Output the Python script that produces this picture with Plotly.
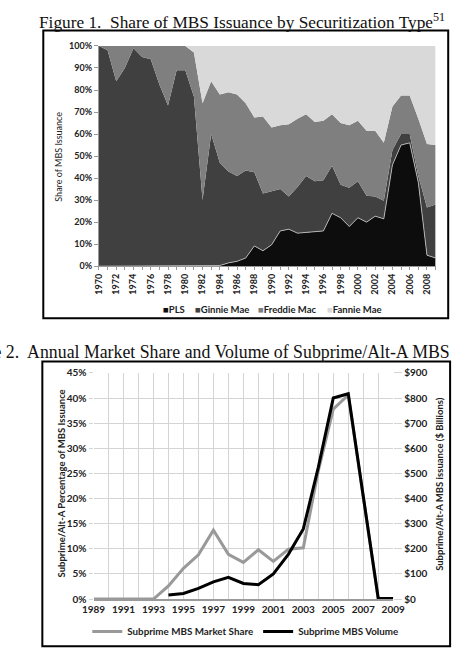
import plotly.graph_objects as go

W, H = 464, 660

# ---------------- Figure 1 data (share of MBS issuance, %) ----------------
years1 = list(range(1970, 2010))
pls = [0, 0, 0, 0, 0, 0, 0, 0, 0, 0, 0, 0, 0, 0, 0.3, 1.5, 2.2, 3.7, 9.2, 7.0,
       9.7, 16.0, 16.8, 15.0, 15.3, 15.6, 16.0, 24.0, 22.0, 18.0, 22.0, 20.0, 22.7, 21.5,
       46.0, 55.0, 56.0, 38.0, 5.0, 3.7]
ginnie = [100, 98, 84, 90, 99, 95, 94, 82.5, 73, 89, 89, 77, 30, 60, 46.7, 41.5, 38.8, 39.8,
          33.4, 26.0, 24.3, 19.0, 14.8, 21.0, 25.7, 23.0, 23.0, 21.6, 15.0, 17.6, 16.6, 12.0,
          8.9, 8.2, 6.7, 5.0, 4.0, 3.0, 21.7, 24.3]
freddie = [0, 2, 16, 10, 1, 5, 6, 17.5, 27, 11, 11, 20, 44, 24, 31, 36, 37, 30.5, 24.9, 35,
           29, 29, 32.9, 31, 28, 26.9, 27, 23.4, 28, 28.4, 27.4, 29.5, 29.9, 26.3, 19.8,
           17.5, 17.5, 26, 28.8, 27]
fannie = [0, 0, 0, 0, 0, 0, 0, 0, 0, 0, 0, 3, 26, 16, 22, 21, 22, 26, 32.5, 32, 37, 36,
          35.5, 33, 31, 34.5, 34, 31, 35, 36, 34, 38.5, 38.5, 44, 27.5, 22.5, 22.5, 33,
          44.5, 45]
x1_tickvals = list(range(1970, 2009, 2))
x1_ticktext = [str(y) for y in x1_tickvals]
series_names1 = ["PLS", "Ginnie Mae", "Freddie Mac", "Fannie Mae"]

# ---------------- Figure 2 data ----------------
share_years = list(range(1989, 2010))
market_share = [0, 0, 0, 0, 0, 0.026, 0.061, 0.088, 0.137, 0.089, 0.073, 0.098, 0.075,
                0.099, 0.102, 0.255, 0.378, 0.406, 0.205, 0, 0]
volume_years = list(range(1994, 2010))
volume = [16, 22, 42, 68, 86, 62, 57, 100, 178, 279, 524, 800, 817, 406, 3, 2]
x2_tickvals = list(range(1989, 2010, 2))
x2_ticktext = [str(y) for y in x2_tickvals]


def px_x(p):
    return p / W


def px_y(p):
    return 1 - p / H


FONT = "Lato"
fig = go.Figure()

fill_colors = ["#0d0d0d", "#404040", "#7f7f7f", "#d9d9d9"]
series = [pls, ginnie, freddie, fannie]
for nm, s, c in zip(series_names1, series, fill_colors):
    fig.add_trace(go.Scatter(
        x=years1, y=s, name=nm, stackgroup="one", mode="lines",
        line=dict(width=0.8 if nm == "PLS" else 0, color="#c8c8c8" if nm == "PLS" else c),
        fillcolor=c, xaxis="x", yaxis="y", showlegend=False,
    ))

fig.add_trace(go.Scatter(
    x=share_years, y=market_share, name="Subprime MBS Market Share", mode="lines",
    line=dict(color="#999999", width=3), xaxis="x2", yaxis="y2", legend="legend2",
))
fig.add_trace(go.Scatter(
    x=volume_years, y=volume, name="Subprime MBS Volume", mode="lines",
    line=dict(color="#000000", width=3), xaxis="x2", yaxis="y3", legend="legend2",
))

tickfont = dict(family=FONT, size=9, color="#222", weight="bold")
tickfont2 = dict(family=FONT, size=10, color="#222", weight="bold")

fig.update_layout(
    width=W, height=H,
    margin=dict(l=0, r=0, t=0, b=0),
    paper_bgcolor="white", plot_bgcolor="white",
    showlegend=True,
    xaxis=dict(
        domain=[px_x(91.7), px_x(446.7)], anchor="y", range=[1970, 2009],
        tickmode="array", tickvals=x1_tickvals, ticktext=x1_ticktext, tickangle=-90,
        ticks="outside", ticklen=3, tickcolor="#999", showline=True, linecolor="#999",
        showgrid=False, zeroline=False, tickfont=tickfont,
        minor=dict(dtick=1, tick0=1970, ticks="outside", ticklen=3, tickcolor="#999",
                   showgrid=False),
    ),
    yaxis=dict(
        domain=[px_y(265), px_y(40.7)], anchor="x", range=[0, 100], dtick=10,
        ticksuffix="%", ticks="outside", ticklen=4, tickcolor="#999", showline=True,
        linecolor="#999", showgrid=False, zeroline=False, tickfont=tickfont,
    ),
    xaxis2=dict(
        domain=[px_x(86), px_x(402)], anchor="y2", range=[1989, 2009],
        tickmode="array", tickvals=x2_tickvals, ticktext=x2_ticktext, tickangle=0,
        ticks="", showline=True, linecolor="#9a9a9a", linewidth=1.5,
        showgrid=True, gridcolor="#d4d4d4", gridwidth=1, zeroline=False, tickfont=tickfont2,
        minor=dict(dtick=1, tick0=1989, showgrid=True, gridcolor="#d4d4d4", gridwidth=1),
    ),
    yaxis2=dict(
        domain=[px_y(604), px_y(373.7)], anchor="x2", range=[0, 0.45], dtick=0.05,
        tickformat=".0%", ticks="outside", ticklen=4, tickcolor="#d4d4d4",
        showgrid=True, gridcolor="#d4d4d4", zeroline=False, tickfont=tickfont2,
    ),
    yaxis3=dict(
        overlaying="y2", side="right", anchor="x2", range=[0, 900], dtick=100,
        tickprefix="$", tickformat=",d", ticks="outside", ticklen=8, tickcolor="#d4d4d4",
        showgrid=False, zeroline=False, tickfont=tickfont2,
    ),
    legend2=dict(
        orientation="h", x=px_x(246), y=px_y(637), xanchor="center", yanchor="middle",
        traceorder="normal", font=dict(family=FONT, size=9.8, color="#222", weight="bold"),
        itemwidth=30, bgcolor="rgba(0,0,0,0)",
    ),
)

annotations = [
    dict(text="Figure 1.  Share of MBS Issuance by Securitization Type<sup>51</sup>",
         x=px_x(243), y=px_y(15), xanchor="center", yanchor="middle",
         font=dict(family="Liberation Serif", size=17.3, color="#111")),
    dict(text="Figure 2.  Annual Market Share and Volume of Subprime/Alt-A MBS",
         x=px_x(463.5), y=px_y(352), xanchor="right", yanchor="middle",
         font=dict(family="Liberation Serif", size=17.8, color="#111")),
    dict(text="Share of MBS Issuance", x=px_x(49), y=px_y(153), textangle=-90,
         xanchor="center", yanchor="middle",
         font=dict(family=FONT, size=9, color="#222")),
    dict(text="Subprime/Alt-A Percentage of MBS Issuance", x=px_x(52), y=px_y(486),
         textangle=-90, xanchor="center", yanchor="middle",
         font=dict(family=FONT, size=9.5, color="#222", weight="bold")),
    dict(text="Subprime/Alt-A MBS issuance ($ Billions)", x=px_x(450), y=px_y(487),
         textangle=-90, xanchor="center", yanchor="middle",
         font=dict(family=FONT, size=9.5, color="#222", weight="bold")),
]

# compact legend for Figure 1 (square key + name)
legend1_x = [157, 191, 257, 330]
for nm, c, lx in zip(series_names1, fill_colors, legend1_x):
    annotations.append(dict(
        text=f"<span style='color:{c}'>■</span>{nm}", x=px_x(lx), y=px_y(309),
        xanchor="left", yanchor="middle",
        font=dict(family=FONT, size=9.5, color="#222", weight="bold")))

for a in annotations:
    a.update(xref="paper", yref="paper", showarrow=False)
fig.update_layout(annotations=annotations)

fig.update_layout(shapes=[
    dict(type="rect", xref="paper", yref="paper", x0=px_x(33), x1=px_x(460),
         y0=px_y(318), y1=px_y(25), line=dict(color="black", width=2)),
    dict(type="rect", xref="paper", yref="paper", x0=px_x(32), x1=px_x(462),
         y0=px_y(652), y1=px_y(362), line=dict(color="black", width=2)),
])

fig.write_html("out.html")
